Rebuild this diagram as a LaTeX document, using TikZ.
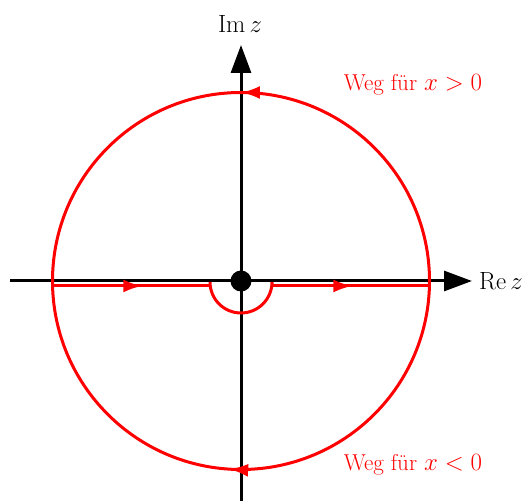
\documentclass[tikz,border=0pt]{standalone}
\usetikzlibrary{arrows.meta,decorations.markings}
\begin{document}
\begin{tikzpicture}[x=1pt,y=1pt,
  axis/.style={line width=3pt,-{Triangle[length=28pt,width=20pt]}},
  path/.style={red,line width=3pt},
  lbl/.style={font=\fontsize{23}{27}\selectfont,inner sep=0pt},
  marked/.style={postaction={decorate,decoration={markings,
     mark=at position #1 with {\arrow{Latex[length=19pt,width=13pt]}}}}}]
\useasboundingbox (0,0) rectangle (523,501);
% axes
\coordinate (O) at (241,220);
\coordinate (xs) at (10,220);
\coordinate (xe) at (472,220);
\coordinate (ys) at (241,0);
\coordinate (ye) at (241,456);
\draw[axis] (xs) -- (xe);
\draw[axis] (ys) -- (ye);
\node[lbl,anchor=west] (re) at (479,220) {$\mathrm{Re}\,z$};
\node[lbl] (im) at (240,477) {$\mathrm{Im}\,z$};
% circle
\coordinate (R) at (429.5,220);
\coordinate (L) at (52.5,220);
\draw[path,marked=0.5] (R) arc[start angle=0,end angle=180,radius=188.5];
\draw[path,marked=0.52] (R) arc[start angle=0,end angle=-180,radius=188.5];
% path along real axis with indentation
\coordinate (a1) at (52.5,215);
\coordinate (a2) at (210,215);
\coordinate (a3) at (272,215);
\coordinate (a4) at (429.5,215);
\draw[path,marked=0.57] (a1) -- (a2);
\draw[path] (a2) -- (210,219) arc[start angle=180,end angle=360,radius=31] -- (a3);
\draw[path,marked=0.51] (a3) -- (a4);
% origin
\fill (O) circle (10.5);
% labels
\node[lbl,text=red] (top) at (413,416) {Weg für $x>0$};
\node[lbl,text=red] (bot) at (413,36) {Weg für $x<0$};
\end{tikzpicture}
\end{document}
